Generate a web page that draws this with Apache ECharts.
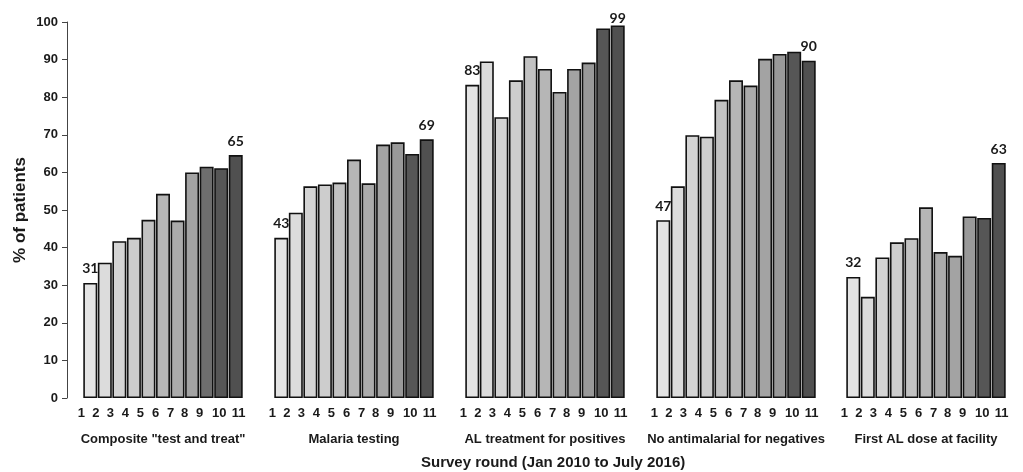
<!DOCTYPE html>
<html><head><meta charset="utf-8">
<script src="https://cdn.jsdelivr.net/npm/echarts@6/dist/echarts.min.js"></script>
<style>html,body{margin:0;padding:0;background:#fff}#c{width:1023px;height:472px}</style>
</head><body><div id="c"></div>
<script>
var rounds = ['1','2','3','4','5','6','7','8','9','10','11'];
var groups = ['Composite "test and treat"','Malaria testing','AL treatment for positives','No antimalarial for negatives','First AL dose at facility'];
var composite = [30.6,36.0,41.7,42.6,47.4,54.3,47.2,60.0,61.5,61.1,64.6];
var testing = [42.6,49.3,56.3,56.8,57.3,63.4,57.1,67.4,68.0,64.9,68.8];
var alTreatment = [83.3,89.5,74.7,84.5,90.9,87.5,81.4,87.5,89.2,98.3,99.1];
var noAntimalarial = [47.3,56.3,69.9,69.5,79.3,84.5,83.1,90.2,91.5,92.1,89.7];
var firstDose = [32.2,26.9,37.4,41.4,42.5,50.7,38.8,37.8,48.3,47.9,62.5];
var yTicks = [0,10,20,30,40,50,60,70,80,90,100];
var xTitle = 'Survey round (Jan 2010 to July 2016)';
var yTitle = '% of patients';

var seriesValues = [composite, testing, alTreatment, noAntimalarial, firstDose];
var roundColors = ['#e4e4e4','#dcdcdc','#d4d4d4','#cdcdcd','#c2c2c2','#b6b6b6','#ababab','#a3a3a3','#999999','#565656','#505050'];
var group1Round9Color = '#6e6e6e';
// horizontal nudge (px) of each round label relative to its bar centre
var labelShift = [-9,-9,-9,-8.5,-8,-7.5,-7,-7.5,-7,-2,3];

var chart = echarts.init(document.getElementById('c'), null, {renderer:'canvas'});
var grids = [], xAxes = [], yAxes = [], series = [];
var lefts = [83, 274, 465, 656, 846];
var axisFont = {fontFamily: 'Liberation Sans', fontWeight: 'bold', fontSize: 13, color: '#1a1a1a'};
var catData = rounds.map(function (r, i) {
  var s = labelShift[i];
  var pad = s < 0 ? [0, -2 * s, 0, 0] : [0, 0, 0, 2 * s];
  return {value: r, textStyle: {padding: pad}};
});
for (var g = 0; g < 5; g++) {
  grids.push({left: lefts[g], width: 160, top: 22, bottom: 74});
  xAxes.push({
    type: 'category', gridIndex: g, data: catData,
    axisLine: {show: false}, axisTick: {show: false},
    axisLabel: Object.assign({interval: 0, margin: 9}, axisFont),
    name: groups[g], nameLocation: 'middle', nameGap: 35,
    nameTextStyle: axisFont
  });
  var ya = {
    type: 'value', gridIndex: g, min: 0, max: 100, interval: 10,
    splitLine: {show: false}
  };
  if (g === 0) {
    ya.offset = 16;
    ya.axisLine = {show: true, lineStyle: {color: '#444', width: 1}};
    ya.axisTick = {show: true, inside: false, length: 5, lineStyle: {color: '#444'}};
    ya.axisLabel = Object.assign({margin: 9,
      formatter: function (v) { return yTicks.indexOf(v) >= 0 ? String(v) : ''; }}, axisFont);
    ya.name = yTitle; ya.nameLocation = 'middle'; ya.nameGap = 38;
    ya.nameTextStyle = {fontFamily: 'Liberation Sans', fontWeight: 'bold', fontSize: 17, color: '#1a1a1a'};
  } else {
    ya.show = false;
  }
  yAxes.push(ya);
  var vals = seriesValues[g];
  var data = vals.map(function (v, i) {
    var col = roundColors[i];
    if (g === 0 && i === 8) col = group1Round9Color;
    var item = {value: v, itemStyle: {color: col}};
    if (i === 0 || i === vals.length - 1) {
      item.label = {show: true, position: 'top', distance: v > 95 ? 0 : 7,
        formatter: String(Math.round(v)),
        fontFamily: 'Lato', fontWeight: 'bold', fontSize: 14, color: '#1a1a1a'};
    }
    return item;
  });
  series.push({
    type: 'bar', xAxisIndex: g, yAxisIndex: g, data: data,
    barCategoryGap: '4%',
    itemStyle: {borderColor: '#111', borderWidth: 1.6},
    animation: false, silent: true
  });
}
chart.setOption({
  animation: false,
  grid: grids, xAxis: xAxes, yAxis: yAxes, series: series,
  graphic: [{type: 'text', left: 421, top: 455,
    style: {text: xTitle, fontFamily: 'Liberation Sans', fontWeight: 'bold', fontSize: 15, fill: '#1a1a1a'}}]
});
</script></body></html>
